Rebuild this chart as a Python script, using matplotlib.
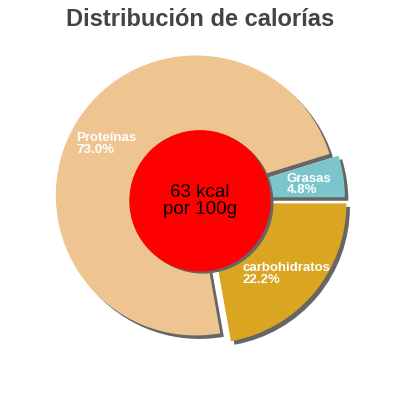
import matplotlib
matplotlib.use("Agg")
import matplotlib.pyplot as plt
import numpy as np
from matplotlib.patches import Circle

plt.rcParams['font.family'] = ['Liberation Sans', 'DejaVu Sans']

categories = ["carbohidratos", "Grasas", "Proteínas"]
values = [22.2, 4.8, 73.0]
colors = ["#DAA520", "#7DC5CC", "#EEC591"]
explode = [0.06, 0.035, 0.035]
title = "Distribución de calorías"
center_text = "63 kcal\npor 100g"

fig = plt.figure(figsize=(4, 4), dpi=100)
ax = fig.add_axes([0, 0, 1, 1])
R = 140.0  # pixels per data unit
cx, cy = 200.0, 198.0
lim = 200.0 / R
center = ((cx - 200) / R, (200 - cy) / R)

startangle = -values[0] / 100 * 360
sh = 3.5 / R
# shadow
ax.pie(values, colors=["#666666"] * 3, explode=explode, startangle=startangle,
       counterclock=True, radius=1.0, center=(center[0] + sh, center[1] - sh),
       frame=True, wedgeprops=dict(linewidth=0))
wedges, _ = ax.pie(values, colors=colors, explode=explode, startangle=startangle,
                   counterclock=True, radius=1.0, center=center, frame=True,
                   wedgeprops=dict(linewidth=0))
ax.set_xlim(-lim, lim)
ax.set_ylim(-lim, lim)
ax.set_aspect('equal')
ax.axis('off')

for w, name, v in zip(wedges, categories, values):
    mid = np.deg2rad((w.theta1 + w.theta2) / 2)
    x = w.center[0] + 0.75 * np.cos(mid)
    y = w.center[1] + 0.75 * np.sin(mid) - 3 / R
    ax.text(x, y, f"{name}\n{v:.1f}%", color="white", fontsize=9.5,
            fontweight="bold", ha="center", va="center", multialignment="left",
            linespacing=0.95, zorder=10)

# center circle
ax.add_patch(Circle((center[0] + 0.02, center[1] - 0.035), 0.5, color="#666666", zorder=5))
ax.add_patch(Circle((center[0], center[1] - 0.02), 0.5, color="#FF0000", zorder=6))
ax.text(center[0], center[1] - 0.02, center_text, ha="center", va="center",
        fontsize=13.5, color="black", linespacing=1.0, zorder=7)

fig.text(0.5, 1 - 19 / 400, title, ha="center", va="center", fontsize=17,
         fontweight="bold", color="#444444")

fig.savefig("out.png", dpi=100)
